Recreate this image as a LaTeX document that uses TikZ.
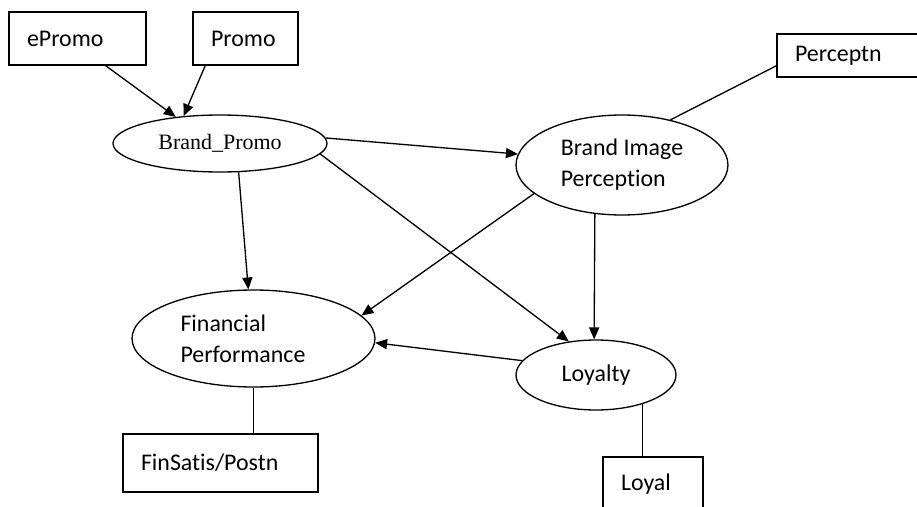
\documentclass[tikz,border=0pt]{standalone}
\usepackage{fontspec}
\setmainfont{Carlito}[Ligatures=NoCommon]
\newfontfamily\timesrm{Liberation Serif}
\usepackage{tikz}
\usetikzlibrary{shapes.geometric, arrows.meta}

\begin{document}
\begin{tikzpicture}[
    x=0.02cm, y=-0.02cm,
    obsbox/.style = {rectangle, draw, line width=0.75pt,
                     align=left, inner xsep=0.36cm, inner ysep=0pt,
                     font=\fontsize{13.6}{17.6}\selectfont},
    latent/.style = {ellipse, draw, line width=0.75pt, inner sep=0pt,
                     align=left, font=\fontsize{13.6}{17.6}\selectfont},
    arr/.style    = {-{Triangle[length=6.8pt, width=5.8pt]}, line width=0.75pt},
    link/.style   = {line width=0.75pt}
]
\useasboundingbox (0,0) rectangle (917,507);

%% ---- Indicator boxes ----
\node[obsbox, text width=2.02cm, minimum height=1.06cm] (epromo) at (77.5, 38.5)  {ePromo};
\node[obsbox, text width=1.38cm, minimum height=1.06cm] (promo)  at (245.5,38.5)  {Promo};
\node[obsbox, text width=2.18cm, minimum height=0.86cm] (percep) at (849.5,55.5)  {Perceptn};
\node[obsbox, text width=3.18cm, minimum height=1.16cm] (finsat) at (220.5,463)   {FinSatis/Postn};
\node[obsbox, text width=1.28cm, minimum height=1.10cm] (loyal)  at (653,  484.5) {Loyal};

%% ---- Latent constructs ----
\node[latent, minimum width=4.28cm, minimum height=1.14cm,
      font=\timesrm\fontsize{12.5}{14}\selectfont]       (bp)   at (220,  143.5) {Brand\_Promo};
\node[latent, minimum width=4.24cm, minimum height=2.00cm] (bip)  at (622,  165)   {Brand Image\\Perception};
\node[latent, minimum width=4.86cm, minimum height=1.94cm,
      text width=2.92cm]                                   (fp)   at (253.5,338.5) {Financial\\Performance};
\node[latent, minimum width=3.20cm, minimum height=1.40cm] (loy)  at (596,  375)   {Loyalty};

%% ---- Paths ----
\draw[arr] (epromo.-44) -- (bp.149.5);
\draw[arr] (promo.-146) -- (bp.143.6);
\draw[arr] (bp.-57)     -- (fp.96);
\draw[arr] (bp.3.5)     -- (bip.174);
\draw[arr] (bp.-6)      -- (loy.129);
\draw[arr] (bip.198)    -- (fp.12);
\draw[arr] (bip.-119)   -- (loy.93);
\draw[arr] (loy.169)    -- (fp.-2);

%% ---- Indicator links ----
\draw[link] (percep.188) -- (bip.43);
\draw[link] (fp.south)   -- (fp.south |- finsat.north);
\draw[link] (loy.-32)    -- (loy.-32 |- loyal.north);

\end{tikzpicture}
\end{document}
